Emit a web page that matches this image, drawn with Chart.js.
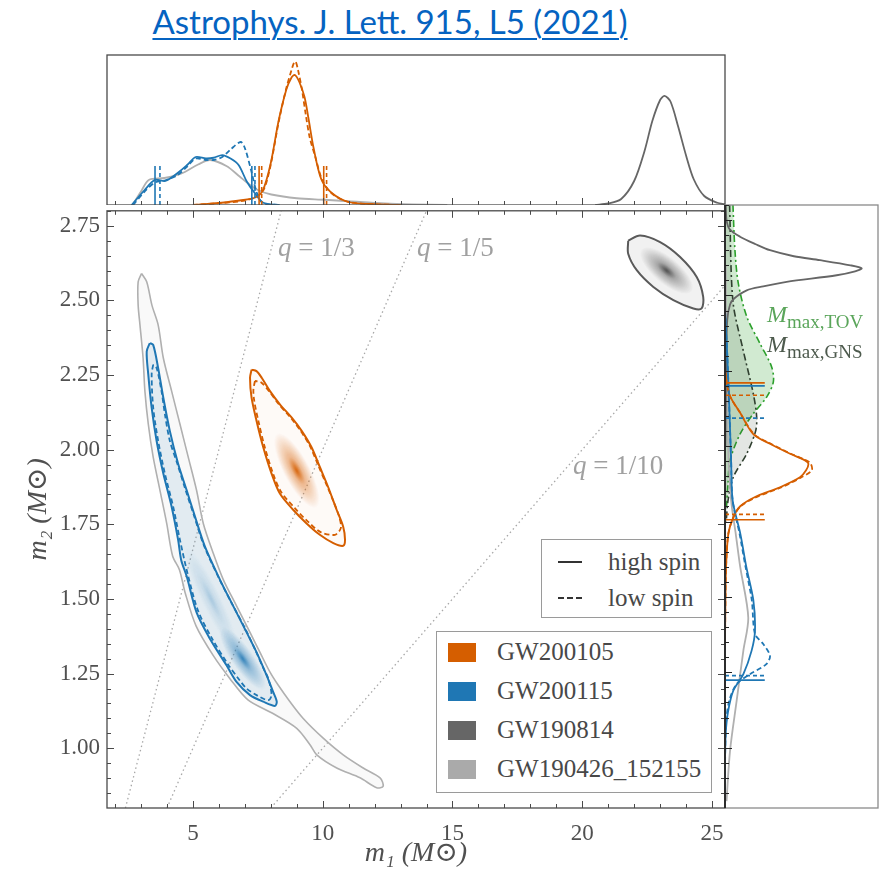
<!DOCTYPE html>
<html>
<head>
<meta charset="utf-8">
<title>m1 - m2</title>
<script src="https://cdn.jsdelivr.net/npm/chart.js@4.4.1/dist/chart.umd.min.js"></script>
<style>
  body { margin: 0; background: #fff; width: 890px; height: 872px; position: relative; overflow: hidden; font-family: "Liberation Serif", serif; }
  canvas { position: absolute; }
  #titulo { position: absolute; left: 0; top: 1px; width: 780px; text-align: center; font-family: Lato, "Open Sans", sans-serif; font-size: 33px; line-height: 40px; }
  #titulo a { color: #0563c1; text-decoration: underline; text-decoration-thickness: 2px; text-underline-offset: 4px; }
  .leyenda { position: absolute; border: 1.3px solid #9a9a9a; background: #fff; box-sizing: border-box; }
  .fila { position: absolute; height: 24px; display: flex; align-items: center; font-family: "Liberation Serif", serif; font-size: 25px; color: #484848; white-space: nowrap; }
  .cuadro { display: inline-block; width: 28px; height: 19px; margin-right: 21px; }
  .trazo { display: inline-block; width: 24px; margin-right: 26px; border-top: 2px solid #333; }
  .mmax { position: absolute; font-family: "Liberation Serif", serif; font-size: 24px; line-height: 24px; white-space: nowrap; }
  .mmax span { font-size: 19px; position: relative; top: 6px; }
</style>
</head>
<body>
<div id="titulo"><a href="#">Astrophys. J. Lett. 915, L5 (2021)</a></div>

<canvas id="graficoArriba" width="740" height="165" style="left:0;top:40px"></canvas>
<canvas id="graficoPrincipal" width="740" height="682" style="left:0;top:190px"></canvas>
<canvas id="graficoDerecha" width="180" height="682" style="left:710px;top:190px"></canvas>

<div class="mmax" style="left:767px;top:302px;color:#5aa55a"><i>M</i><span>max,TOV</span></div>
<div class="mmax" style="left:767px;top:332px;color:#4d5a4d"><i>M</i><span>max,GNS</span></div>

<div class="leyenda" style="left:541px;top:539px;width:171px;height:79px">
  <div class="fila" style="left:16px;top:10px"><span class="trazo"></span>high spin</div>
  <div class="fila" style="left:16px;top:46px"><span class="trazo" style="border-top-style:dashed"></span>low spin</div>
</div>
<div class="leyenda" style="left:436px;top:631px;width:276px;height:162px">
  <div class="fila" style="left:11px;top:8px"><span class="cuadro" style="background:#d55e00"></span>GW200105</div>
  <div class="fila" style="left:11px;top:47px"><span class="cuadro" style="background:#1f77b4"></span>GW200115</div>
  <div class="fila" style="left:11px;top:86px"><span class="cuadro" style="background:#666"></span>GW190814</div>
  <div class="fila" style="left:11px;top:125px"><span class="cuadro" style="background:#aaa"></span>GW190426_152155</div>
</div>

<script>
// ---- ejes ----
const m1Rango = [1.69, 25.5];
const m2Rango = [0.8, 2.8];
const m1Ticks = [5, 10, 15, 20, 25];
const m2Ticks = [1.0, 1.25, 1.5, 1.75, 2.0, 2.25, 2.5, 2.75];
const m1Menores = [2, 3, 4, 6, 7, 8, 9, 11, 12, 13, 14, 16, 17, 18, 19, 21, 22, 23, 24];
const m2Menores = [];
for (let v = 0.85; v < 2.8; v += 0.05) m2Menores.push(+v.toFixed(2));

// ---- lineas q = m2/m1 ----
const qValores = [1 / 3, 1 / 5, 1 / 10];
const qTextos = ['1/3', '1/5', '1/10'];
const qTextoM1 = [8.28, 13.63, 19.64];
const qTextoM2 = [2.674, 2.674, 1.943];

// ---- contornos 90% (m1, m2) ----
const gw190426Contorno = [[3.02,2.590],[2.89,2.562],[2.89,2.484],[2.96,2.418],[3.08,2.307],[3.15,2.196],[3.28,2.086],[3.47,1.975],[3.73,1.864],[3.99,1.753],[4.22,1.643],[4.48,1.598],[4.70,1.521],[5.12,1.410],[5.78,1.311],[6.42,1.234],[7.12,1.162],[8.05,1.118],[9.00,1.067],[9.51,1.012],[9.77,0.978],[10.54,0.934],[11.44,0.901],[12.08,0.868],[12.33,0.873],[12.21,0.901],[11.56,0.934],[10.79,0.978],[10.02,1.034],[9.25,1.100],[8.74,1.156],[8.29,1.211],[7.97,1.255],[7.58,1.322],[7.20,1.388],[6.68,1.477],[6.17,1.565],[5.78,1.654],[5.40,1.753],[5.14,1.864],[4.82,1.975],[4.50,2.086],[4.18,2.196],[3.86,2.307],[3.66,2.418],[3.42,2.484],[3.22,2.562],[3.02,2.590]];
const gw200115Alto = [[3.34,2.357],[3.22,2.329],[3.28,2.252],[3.41,2.141],[3.60,2.030],[3.86,1.920],[4.18,1.809],[4.43,1.698],[4.55,1.630],[4.76,1.576],[5.14,1.455],[5.66,1.366],[6.30,1.277],[6.68,1.222],[7.20,1.178],[7.71,1.156],[8.16,1.142],[8.23,1.156],[8.09,1.189],[7.84,1.244],[7.45,1.322],[7.07,1.388],[6.55,1.477],[6.04,1.565],[5.46,1.676],[5.08,1.776],[4.76,1.864],[4.43,1.953],[4.11,2.063],[3.86,2.174],[3.66,2.274],[3.47,2.351],[3.34,2.357]];
const gw200115Bajo = [[3.47,2.285],[3.41,2.252],[3.47,2.141],[3.66,2.030],[3.92,1.920],[4.24,1.809],[4.50,1.698],[4.82,1.576],[5.20,1.460],[5.72,1.370],[6.36,1.280],[6.80,1.228],[7.07,1.200],[7.45,1.178],[7.90,1.161],[8.03,1.178],[7.90,1.234],[7.71,1.269],[7.40,1.330],[7.02,1.400],[6.50,1.485],[6.00,1.570],[5.42,1.680],[5.04,1.780],[4.72,1.864],[4.40,1.953],[4.11,2.030],[3.92,2.119],[3.79,2.196],[3.60,2.274],[3.47,2.285]];
const gw200105Alto = [[7.26,2.268],[7.20,2.241],[7.26,2.174],[7.45,2.097],[7.71,2.008],[8.03,1.920],[8.35,1.853],[8.87,1.798],[9.38,1.753],[9.89,1.715],[10.41,1.687],[10.79,1.678],[10.86,1.698],[10.79,1.742],[10.54,1.798],[10.21,1.875],[9.89,1.942],[9.57,2.008],[9.19,2.063],[8.80,2.108],[8.35,2.152],[7.97,2.196],[7.65,2.241],[7.45,2.263],[7.26,2.268]];
const gw200105Bajo = [[7.39,2.230],[7.33,2.200],[7.36,2.165],[7.52,2.097],[7.77,2.008],[8.08,1.922],[8.40,1.858],[8.92,1.805],[9.42,1.760],[9.92,1.724],[10.47,1.715],[10.70,1.738],[10.62,1.780],[10.40,1.830],[10.16,1.880],[9.84,1.945],[9.52,2.010],[9.15,2.063],[8.76,2.108],[8.31,2.152],[7.93,2.196],[7.62,2.226],[7.39,2.230]];
const gw190814Contorno = [[21.77,2.700],[22.23,2.717],[23.00,2.695],[23.77,2.645],[24.41,2.578],[24.66,2.512],[24.60,2.473],[24.28,2.473],[23.51,2.501],[22.74,2.545],[22.10,2.601],[21.77,2.656],[21.77,2.700]];

// picos de densidad 2D
const picoM1 = [9.0, 6.92, 5.7, 23.25];
const picoM2 = [1.93, 1.30, 1.50, 2.60];

// ---- marginal arriba: densidad en m1 ----
const arribaO_m1 = [5.0, 5.4, 6.1, 6.8, 7.4, 7.7, 8.0, 8.3, 8.6, 8.8, 8.93, 9.1, 9.3, 9.45, 9.65, 9.95, 10.35, 11.0, 12.0, 13.0];
const arribaO_alto = [0, 0.005, 0.015, 0.03, 0.05, 0.1, 0.28, 0.56, 0.77, 0.85, 0.867, 0.82, 0.72, 0.58, 0.38, 0.17, 0.08, 0.02, 0.005, 0];
const arribaOb_m1 = [5.0, 6.0, 7.0, 7.5, 7.75, 8.0, 8.3, 8.6, 8.8, 8.9, 8.96, 9.05, 9.2, 9.35, 9.5, 9.7, 10.0, 10.4, 11.0, 12.0, 13.0];
const arribaO_bajo = [0, 0.012, 0.03, 0.06, 0.11, 0.27, 0.55, 0.78, 0.9, 0.95, 0.955, 0.9, 0.77, 0.6, 0.45, 0.33, 0.16, 0.07, 0.02, 0.005, 0];
const arribaA_m1 = [2.64, 3.14, 3.54, 3.94, 4.41, 4.8, 5.11, 5.5, 5.8, 6.13, 6.45, 6.76, 7.08, 7.39, 7.71, 8.34];
const arribaA_alto = [0, 0.10, 0.167, 0.16, 0.213, 0.27, 0.32, 0.31, 0.315, 0.333, 0.31, 0.267, 0.155, 0.078, 0.015, 0];
const arribaAb_m1 = [2.7, 3.14, 3.54, 3.94, 4.41, 4.8, 5.11, 5.5, 5.8, 6.13, 6.45, 6.84, 7.0, 7.24, 7.47, 7.71, 8.34];
const arribaA_bajo = [0, 0.09, 0.15, 0.165, 0.2, 0.26, 0.31, 0.3, 0.3, 0.32, 0.37, 0.42, 0.38, 0.233, 0.078, 0.01, 0];
const arribaG26_m1 = [2.67, 3.0, 3.3, 3.9, 4.56, 5.2, 5.66, 6.29, 6.8, 7.08, 7.5, 8.02, 9.0, 10.07, 11.0, 12.4, 13.5, 14.8];
const arribaG26 = [0, 0.09, 0.167, 0.18, 0.21, 0.27, 0.30, 0.26, 0.19, 0.15, 0.1, 0.07, 0.045, 0.035, 0.025, 0.01, 0.004, 0];
const arribaG14_m1 = [20.5, 21.0, 21.5, 22.0, 22.4, 22.7, 23.0, 23.17, 23.4, 23.7, 24.0, 24.3, 24.7, 25.2, 25.5];
const arribaG14 = [0, 0.01, 0.04, 0.16, 0.36, 0.56, 0.70, 0.727, 0.69, 0.52, 0.33, 0.17, 0.06, 0.015, 0.005];
// intervalos 90% en m1
const intM1_A_alto = [3.54, 7.27];
const intM1_A_bajo = [3.73, 7.39];
const intM1_O_alto = [7.55, 10.04];
const intM1_O_bajo = [7.65, 10.15];

// ---- marginal derecha: densidad en m2 ----
const derG14_m2 = [2.80, 2.75, 2.72, 2.695, 2.67, 2.65, 2.63, 2.617, 2.60, 2.59, 2.58, 2.567, 2.545, 2.53, 2.517, 2.49, 2.47, 2.42, 2.3, 2.0];
const derG14 = [0.005, 0.01, 0.03, 0.098, 0.2, 0.294, 0.45, 0.621, 0.82, 0.893, 0.85, 0.73, 0.403, 0.25, 0.142, 0.06, 0.033, 0.015, 0.008, 0.003];
const derTOV_m2 = [2.80, 2.65, 2.54, 2.43, 2.34, 2.263, 2.213, 2.163, 2.108, 2.04, 1.953, 1.88, 1.80];
const derTOV = [0.052, 0.065, 0.087, 0.142, 0.229, 0.305, 0.316, 0.272, 0.185, 0.098, 0.033, 0.02, 0.01];
const derGNS_m2 = [2.80, 2.48, 2.318, 2.174, 2.097, 2.05, 1.975, 1.897, 1.82, 1.75];
const derGNS = [0.03, 0.052, 0.119, 0.185, 0.207, 0.2, 0.142, 0.054, 0.02, 0.008];
const derO_m2 = [2.25, 2.17, 2.11, 2.04, 2.008, 1.975, 1.953, 1.942, 1.92, 1.897, 1.864, 1.83, 1.80, 1.764, 1.71, 1.60, 1.49, 1.35];
const derO_alto = [0, 0.03, 0.10, 0.185, 0.294, 0.425, 0.523, 0.545, 0.53, 0.49, 0.36, 0.19, 0.098, 0.054, 0.022, 0.007, 0.003, 0];
const derO_bajo = [0, 0.03, 0.10, 0.19, 0.30, 0.43, 0.53, 0.56, 0.567, 0.50, 0.37, 0.20, 0.10, 0.055, 0.022, 0.007, 0.003, 0];
const derA_m2 = [2.45, 2.3, 2.1, 1.95, 1.82, 1.71, 1.598, 1.49, 1.388, 1.322, 1.244, 1.189, 1.12, 1.05, 0.95, 0.85];
const derA_alto = [0, 0.015, 0.03, 0.04, 0.05, 0.1, 0.14, 0.185, 0.196, 0.174, 0.12, 0.054, 0.02, 0.005, 0, 0];
const derAb_m2 = [2.45, 2.3, 2.1, 1.95, 1.82, 1.71, 1.598, 1.49, 1.377, 1.344, 1.305, 1.277, 1.244, 1.211, 1.16, 1.1, 1.0, 0.9];
const derA_bajo = [0, 0.015, 0.03, 0.04, 0.05, 0.095, 0.135, 0.175, 0.196, 0.25, 0.294, 0.27, 0.163, 0.076, 0.03, 0.01, 0.002, 0];
const derG26_m2 = [2.6, 2.3, 2.0, 1.82, 1.71, 1.598, 1.432, 1.322, 1.155, 0.99, 0.823];
const derG26 = [0.005, 0.01, 0.02, 0.04, 0.07, 0.1, 0.152, 0.12, 0.076, 0.033, 0.01];
// intervalos 90% en m2
const intM2_O_alto = [1.756, 2.21];
const intM2_O_bajo = [1.774, 2.169];
const intM2_A_alto = [1.224, 2.20];
const intM2_A_bajo = [1.239, 2.093];

// ---- colores ----
const naranja = '#d55e00';
const azul = '#1f77b4';
const grisOsc = '#666666';
const grisCla = '#b0b0b0';
const fuente = '"Liberation Serif", "DejaVu Serif", serif';

Chart.defaults.animation = false;
Chart.defaults.font.family = fuente;

function pares(lista) { return lista.map(p => ({ x: p[0], y: p[1] })); }
function juntar(xs, ys) { return xs.map((v, i) => ({ x: v, y: ys[i] })); }

// mancha difusa para la densidad 2D (se usa como pointStyle)
function mancha(rgb, w, h, a) {
  const c = document.createElement('canvas');
  c.width = w; c.height = h;
  const g = c.getContext('2d');
  g.translate(w / 2, h / 2);
  g.scale(w / 2, h / 2);
  const grad = g.createRadialGradient(0, 0, 0, 0, 0, 1);
  grad.addColorStop(0, `rgba(${rgb},${a})`);
  grad.addColorStop(0.35, `rgba(${rgb},${a * 0.45})`);
  grad.addColorStop(1, `rgba(${rgb},0)`);
  g.fillStyle = grad;
  g.fillRect(-1, -1, 2, 2);
  return c;
}

function marcasX(ctx, scale, valores, yBase, largo) {
  valores.forEach(v => {
    const px = Math.round(scale.getPixelForValue(v)) + 0.5;
    ctx.beginPath(); ctx.moveTo(px, yBase); ctx.lineTo(px, yBase + largo); ctx.stroke();
  });
}
function marcasY(ctx, scale, valores, xBase, largo) {
  valores.forEach(v => {
    const py = Math.round(scale.getPixelForValue(v)) + 0.5;
    ctx.beginPath(); ctx.moveTo(xBase, py); ctx.lineTo(xBase + largo, py); ctx.stroke();
  });
}

function linea(datos, color, extra) {
  return Object.assign({ data: datos, borderColor: color, borderWidth: 1.8, pointRadius: 0, fill: false, tension: 0.3 }, extra || {});
}

// ================= grafico principal =================
const datosPrincipal = [];
qValores.forEach(q => {
  datosPrincipal.push(linea([{ x: m2Rango[0] / q, y: m2Rango[0] }, { x: m2Rango[1] / q, y: m2Rango[1] }], '#a8a8a8',
    { borderWidth: 1.3, borderDash: [1.5, 3], tension: 0, order: 30 }));
});
datosPrincipal.push(linea(pares(gw190426Contorno), grisCla, { fill: 'shape', backgroundColor: 'rgba(170,170,170,0.07)', borderWidth: 1.6, order: 20 }));
datosPrincipal.push({
  data: juntar(picoM1, picoM2), showLine: false, order: 15,
  pointRadius: 6,
  pointStyle: [mancha('213,94,0', 84, 26, 0.95), mancha('31,119,180', 76, 22, 0.9), mancha('31,119,180', 120, 20, 0.3), mancha('55,55,55', 66, 26, 0.9)],
  rotation: [62, 55, 64, 40]
});
datosPrincipal.push(linea(pares(gw200115Alto), azul, { fill: 'shape', backgroundColor: 'rgba(31,119,180,0.10)', borderWidth: 2, order: 5 }));
datosPrincipal.push(linea(pares(gw200115Bajo), azul, { borderDash: [5, 3], order: 4 }));
datosPrincipal.push(linea(pares(gw200105Alto), naranja, { fill: 'shape', backgroundColor: 'rgba(213,94,0,0.03)', borderWidth: 2, order: 5 }));
datosPrincipal.push(linea(pares(gw200105Bajo), naranja, { borderDash: [5, 3], order: 4 }));
datosPrincipal.push(linea(pares(gw190814Contorno), '#5a5a5a', { fill: 'shape', backgroundColor: 'rgba(120,120,120,0.10)', borderWidth: 2, order: 5 }));

const marcoPrincipal = {
  id: 'marcoPrincipal',
  afterDatasetsDraw(chart) {
    const { ctx, chartArea: a, scales: { x, y } } = chart;
    ctx.save();
    // etiquetas q
    ctx.fillStyle = '#a0a0a0';
    ctx.textBaseline = 'middle';
    qTextos.forEach((t, i) => {
      let px = x.getPixelForValue(qTextoM1[i]);
      const py = y.getPixelForValue(qTextoM2[i]);
      ctx.font = 'italic 27px ' + fuente;
      ctx.fillText('q', px, py);
      px += ctx.measureText('q').width;
      ctx.font = '27px ' + fuente;
      ctx.fillText(' = ' + t, px, py);
    });
    // marco y marcas hacia adentro
    ctx.strokeStyle = '#4a4a4a';
    ctx.lineWidth = 1.3;
    ctx.strokeRect(a.left, a.top, a.right - a.left, a.bottom - a.top);
    ctx.lineWidth = 1;
    marcasX(ctx, x, m1Ticks, a.bottom, -7); marcasX(ctx, x, m1Menores, a.bottom, -4);
    marcasX(ctx, x, m1Ticks, a.top, 7); marcasX(ctx, x, m1Menores, a.top, 4);
    marcasY(ctx, y, m2Ticks, a.left, 7); marcasY(ctx, y, m2Menores, a.left, 4);
    marcasY(ctx, y, m2Ticks, a.right, -7); marcasY(ctx, y, m2Menores, a.right, -4);
    ctx.restore();
  }
};

const ctxPrincipal = document.getElementById('graficoPrincipal').getContext('2d');
new Chart(ctxPrincipal, {
  type: 'line',
  data: { datasets: datosPrincipal },
  options: {
    responsive: false,
    events: [],
    layout: { padding: { top: 15, right: 15, left: 0, bottom: 0 } },
    plugins: { legend: { display: false }, tooltip: { enabled: false } },
    scales: {
      x: {
        type: 'linear', min: m1Rango[0], max: m1Rango[1],
        afterFit: s => { s.height = 64; },
        afterBuildTicks: s => { s.ticks = m1Ticks.map(v => ({ value: v })); },
        grid: { display: false, drawTicks: false },
        border: { display: false },
        ticks: { color: '#505050', font: { size: 23 }, padding: 12, maxRotation: 0 },
        title: { display: true, text: 'm₁ (M⊙)', color: '#505050', font: { size: 28, style: 'italic' }, padding: { top: 0, bottom: 2 } }
      },
      y: {
        type: 'linear', min: m2Rango[0], max: m2Rango[1],
        afterFit: s => { s.width = 107; },
        afterBuildTicks: s => { s.ticks = m2Ticks.map(v => ({ value: v })); },
        grid: { display: false, drawTicks: false },
        border: { display: false },
        ticks: { color: '#505050', font: { size: 23 }, padding: 7, callback: v => v.toFixed(2) },
        title: { display: true, text: 'm₂ (M⊙)', color: '#505050', font: { size: 28, style: 'italic' }, padding: { top: 22, bottom: 0 } }
      }
    }
  },
  plugins: [marcoPrincipal]
});

// ================= marginal arriba =================
const datosArriba = [
  linea(juntar(arribaG26_m1, arribaG26), grisCla, { order: 9 }),
  linea(juntar(arribaG14_m1, arribaG14), grisOsc, { order: 8 }),
  linea(juntar(arribaA_m1, arribaA_alto), azul, { order: 5 }),
  linea(juntar(arribaAb_m1, arribaA_bajo), azul, { borderDash: [5, 3], order: 4 }),
  linea(juntar(arribaO_m1, arribaO_alto), naranja, { order: 5 }),
  linea(juntar(arribaOb_m1, arribaO_bajo), naranja, { borderDash: [5, 3], order: 4 })
];
[[intM1_A_alto, azul, []], [intM1_A_bajo, azul, [4, 3]], [intM1_O_alto, naranja, []], [intM1_O_bajo, naranja, [4, 3]]].forEach(([vals, col, dash]) => {
  vals.forEach(v => datosArriba.push(linea([{ x: v, y: 0 }, { x: v, y: 0.26 }], col, { borderDash: dash, tension: 0, borderWidth: 1.6, order: 3 })));
});

const marcoArriba = {
  id: 'marcoArriba',
  afterDatasetsDraw(chart) {
    const { ctx, chartArea: a, scales: { x } } = chart;
    ctx.save();
    ctx.strokeStyle = '#4a4a4a';
    ctx.lineWidth = 1.3;
    ctx.strokeRect(a.left, a.top, a.right - a.left, a.bottom - a.top);
    ctx.lineWidth = 1;
    marcasX(ctx, x, m1Ticks, a.bottom, -7); marcasX(ctx, x, m1Menores, a.bottom, -4);
    ctx.restore();
  }
};

const ctxArriba = document.getElementById('graficoArriba').getContext('2d');
new Chart(ctxArriba, {
  type: 'line',
  data: { datasets: datosArriba },
  options: {
    responsive: false,
    events: [],
    layout: { padding: { top: 15, right: 15, left: 107, bottom: 0 } },
    plugins: { legend: { display: false }, tooltip: { enabled: false } },
    scales: {
      x: { type: 'linear', min: m1Rango[0], max: m1Rango[1], display: false },
      y: { type: 'linear', min: 0, max: 1, display: false }
    }
  },
  plugins: [marcoArriba]
});

// ================= marginal derecha =================
const datosDerecha = [
  linea(juntar(derTOV, derTOV_m2), '#2ca02c', { fill: 'origin', backgroundColor: 'rgba(44,160,44,0.22)', borderDash: [7, 3, 2, 3], borderWidth: 1.6, order: 12 }),
  linea(juntar(derGNS, derGNS_m2), '#2f3f2f', { fill: 'origin', backgroundColor: 'rgba(60,80,60,0.14)', borderDash: [7, 3, 2, 3], borderWidth: 1.6, order: 11 }),
  linea(juntar(derG26, derG26_m2), grisCla, { order: 9 }),
  linea(juntar(derG14, derG14_m2), grisOsc, { order: 8 }),
  linea(juntar(derA_alto, derA_m2), azul, { order: 5 }),
  linea(juntar(derA_bajo, derAb_m2), azul, { borderDash: [5, 3], order: 4 }),
  linea(juntar(derO_alto, derO_m2), naranja, { order: 5 }),
  linea(juntar(derO_bajo, derO_m2), naranja, { borderDash: [5, 3], order: 4 })
];
[[intM2_O_alto, naranja, []], [intM2_O_bajo, naranja, [4, 3]], [intM2_A_alto, azul, []], [intM2_A_bajo, azul, [4, 3]]].forEach(([vals, col, dash]) => {
  vals.forEach(v => datosDerecha.push(linea([{ x: 0, y: v }, { x: 0.26, y: v }], col, { borderDash: dash, tension: 0, borderWidth: 1.6, order: 3 })));
});

const marcoDerecha = {
  id: 'marcoDerecha',
  afterDatasetsDraw(chart) {
    const { ctx, chartArea: a, scales: { y } } = chart;
    ctx.save();
    ctx.strokeStyle = '#8a8a8a';
    ctx.lineWidth = 1.3;
    ctx.strokeRect(a.left, a.top, a.right - a.left, a.bottom - a.top);
    ctx.strokeStyle = '#222';
    ctx.lineWidth = 1.8;
    ctx.beginPath(); ctx.moveTo(a.left, a.top); ctx.lineTo(a.left, a.bottom); ctx.stroke();
    ctx.lineWidth = 1;
    marcasY(ctx, y, m2Ticks, a.left, 7); marcasY(ctx, y, m2Menores, a.left, 4);
    ctx.restore();
  }
};

const ctxDerecha = document.getElementById('graficoDerecha').getContext('2d');
new Chart(ctxDerecha, {
  type: 'line',
  data: { datasets: datosDerecha },
  options: {
    responsive: false,
    events: [],
    indexAxis: 'y',
    layout: { padding: { top: 15, right: 12, left: 15, bottom: 64 } },
    plugins: { legend: { display: false }, tooltip: { enabled: false } },
    scales: {
      x: { type: 'linear', min: 0, max: 1, display: false },
      y: { type: 'linear', min: m2Rango[0], max: m2Rango[1], display: false }
    }
  },
  plugins: [marcoDerecha]
});
</script>
</body>
</html>
